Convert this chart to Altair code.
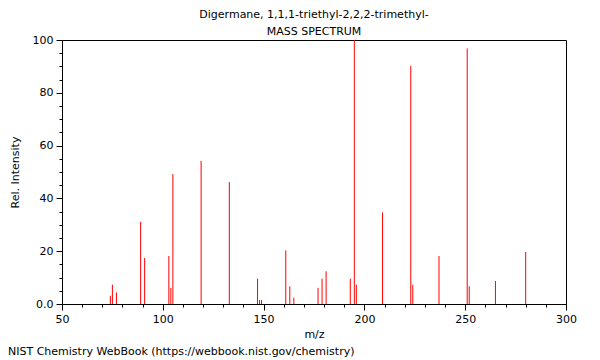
import altair as alt
import pandas as pd

title_lines = ["Digermane, 1,1,1-triethyl-2,2,2-trimethyl-", "MASS SPECTRUM"]
footer_text = ["NIST Chemistry WebBook (https://webbook.nist.gov/chemistry)"]

mz = [74, 75, 77, 89, 91, 103, 104, 105, 119, 133, 147, 148, 149, 161, 163, 165,
      177, 179, 181, 193, 195, 196, 209, 223, 224, 237, 251, 252, 265, 280]
intensity = [3.1, 7.3, 4.4, 31.1, 17.4, 18.2, 6.1, 49.2, 54.2, 46.2, 9.6, 1.5, 1.5,
             20.3, 6.7, 2.4, 6.1, 9.6, 12.4, 9.6, 100.0, 7.3, 34.7, 90.2, 7.3,
             18.2, 96.8, 6.7, 8.7, 19.7]

x_ticks = list(range(50, 301, 10))
y_ticks = list(range(0, 101, 5))

df = pd.DataFrame({"mz": mz, "intensity": intensity})
foot = pd.DataFrame({"t": footer_text})

FONT = "DejaVu Sans"

x_axis = alt.Axis(
    title="m/z", values=x_ticks, grid=False,
    labelExpr="datum.value % 50 === 0 ? datum.label : ''",
    tickSize={"condition": {"test": "datum.value % 50 === 0", "value": 6}, "value": 3},
    labelOverlap=False, labelFlush=False, labelPadding=3, titlePadding=4,
    domainColor="#000", tickColor="#000", labelColor="#000", titleColor="#000",
    labelFont=FONT, titleFont=FONT, labelFontSize=11, titleFontSize=11,
    titleFontWeight="normal",
)
y_axis = alt.Axis(
    title="Rel. Intensity", values=y_ticks, grid=False,
    labelExpr="datum.value % 20 === 0 ? (datum.value === 0 ? '0.0' : datum.label) : ''",
    tickSize={"condition": {"test": "datum.value % 20 === 0", "value": 6}, "value": 3},
    labelOverlap=False, labelFlush=False, labelPadding=3, titlePadding=12,
    domainColor="#000", tickColor="#000", labelColor="#000", titleColor="#000",
    labelFont=FONT, titleFont=FONT, labelFontSize=11, titleFontSize=11,
    titleFontWeight="normal",
)

bars = alt.Chart(df).mark_rule(color="#ff0000", strokeWidth=1).encode(
    x=alt.X("mz:Q", scale=alt.Scale(domain=[50, 300], nice=False, zero=False), axis=x_axis),
    y=alt.Y("intensity:Q", scale=alt.Scale(domain=[0, 100], nice=False), axis=y_axis),
    y2=alt.datum(0),
)

footer = alt.Chart(foot).mark_text(
    align="left", baseline="middle", font=FONT, fontSize=11, color="#000"
).encode(
    x=alt.value(-54), y=alt.value(312), text="t:N"
)

chart = alt.layer(bars, footer).properties(
    width=504, height=264,
    autosize=alt.AutoSizeParams(type="none"),
    padding={"left": 54, "top": 32, "right": 26, "bottom": 56},
    title=alt.TitleParams(
        text=title_lines, font=FONT, fontSize=11, fontWeight="normal",
        color="#000", anchor="middle", offset=-3, lineHeight=17,
    ),
).configure_view(stroke="#000", strokeWidth=1)

chart.save("out.html", embed_options={"renderer": "svg", "actions": False})
